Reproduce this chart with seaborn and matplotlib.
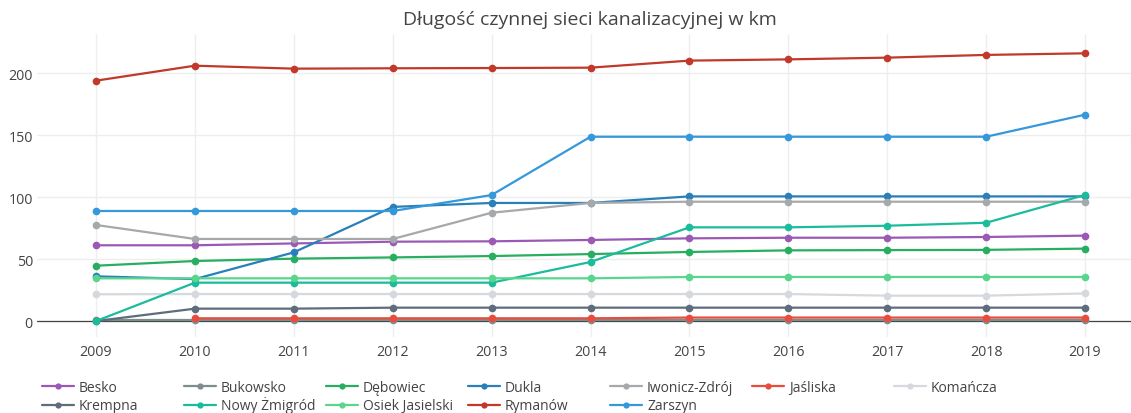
import numpy as np
import pandas as pd
import matplotlib
matplotlib.use("Agg")
import matplotlib.pyplot as plt
from matplotlib.lines import Line2D
import seaborn as sns

# Lata
lata = [2009, 2010, 2011, 2012, 2013, 2014, 2015, 2016, 2017, 2018, 2019]

# Długość czynnej sieci kanalizacyjnej [km] w gminach
besko = [61.2, 61.2, 62.7, 64.1, 64.4, 65.5, 66.8, 67.3, 67.3, 67.9, 69.0]
bukowsko = [0.5, 0.5, 0.5, 0.5, 0.5, 0.5, 0.5, 0.5, 0.5, 0.5, 0.5]
debowiec = [44.7, 48.5, 50.4, 51.4, 52.5, 54.1, 55.8, 57.1, 57.3, 57.5, 58.5]
dukla = [36.1, 33.9, 55.5, 92.2, 95.4, 95.4, 100.7, 100.7, 100.7, 100.7, 100.7]
iwonicz = [77.6, 66.3, 66.3, 66.3, 87.5, 95.4, 96.4, 96.4, 96.4, 96.4, 96.4]
jasliska = [np.nan, 2.2, 2.2, 2.2, 2.2, 2.2, 2.8, 2.8, 2.8, 2.8, 2.8]
komancza = [21.6, 21.8, 21.8, 21.8, 21.8, 21.8, 21.8, 21.8, 20.5, 20.5, 22.3]
krempna = [0.0, 10.0, 10.0, 10.8, 10.8, 10.8, 10.8, 10.8, 10.8, 10.8, 10.8]
nowy_zmigrod = [0.0, 31.0, 31.0, 31.0, 31.0, 47.7, 75.7, 75.7, 77.0, 79.4, 101.8]
osiek = [34.5, 34.5, 34.5, 34.5, 34.5, 34.5, 35.6, 35.6, 35.6, 35.6, 35.6]
rymanow = [194.2, 206.3, 203.9, 204.2, 204.4, 204.7, 210.4, 211.4, 212.8, 215.0, 216.3]
zarszyn = [88.9, 88.9, 88.9, 88.9, 101.8, 148.9, 148.9, 148.9, 148.9, 148.9, 166.7]

gminy = ["Besko", "Bukowsko", "Dębowiec", "Dukla", "Iwonicz-Zdrój", "Jaśliska",
         "Komańcza", "Krempna", "Nowy Żmigród", "Osiek Jasielski", "Rymanów", "Zarszyn"]
serie = [besko, bukowsko, debowiec, dukla, iwonicz, jasliska,
         komancza, krempna, nowy_zmigrod, osiek, rymanow, zarszyn]

kolory = {
    "Besko": "#9b59b6",
    "Bukowsko": "#7f8c8d",
    "Dębowiec": "#27ae60",
    "Dukla": "#2980b9",
    "Iwonicz-Zdrój": "#a5a9ab",
    "Jaśliska": "#e74c3c",
    "Komańcza": "#d5d8dc",
    "Krempna": "#5d6d7e",
    "Nowy Żmigród": "#1abc9c",
    "Osiek Jasielski": "#58d68d",
    "Rymanów": "#c0392b",
    "Zarszyn": "#3498db",
}

df = pd.DataFrame(
    [(g, r, v) for g, s in zip(gminy, serie) for r, v in zip(lata, s)],
    columns=["gmina", "rok", "km"],
)

sns.set_theme(style="white")
plt.rcParams["font.family"] = ["Open Sans", "DejaVu Sans"]

W, H = 1131, 414
fig = plt.figure(figsize=(W / 100, H / 100), dpi=100)
ax = fig.add_axes([37 / W, (H - 338) / H, (W - 37) / W, (338 - 35) / H])

ax.axhline(0, color="#444444", lw=0.9, zorder=1)

sns.lineplot(
    data=df, x="rok", y="km", hue="gmina", hue_order=gminy, palette=kolory,
    marker="o", markersize=5.5, markeredgewidth=0, linewidth=1.6,
    legend=False, ax=ax, zorder=3,
)

ax.set_xlim(2008.403, 2019.465)
ax.set_ylim(-12.9, 231.9)
ax.set_xticks(lata)
ax.set_yticks([0, 50, 100, 150, 200])
ax.grid(True, color="#eeeeee", lw=1)
ax.set_axisbelow(True)
for s in ax.spines.values():
    s.set_visible(False)
ax.tick_params(axis="both", length=0, labelsize=10.3, labelcolor="#444444")
ax.tick_params(axis="y", pad=3)
ax.tick_params(axis="x", pad=5)
ax.set_xlabel("")
ax.set_ylabel("")

fig.text(590 / W, 1 - 20 / H, "Długość czynnej sieci kanalizacyjnej w km",
         ha="center", va="center", fontsize=14, color="#444444")

# Legenda: poziomo, 7 kolumn po 142 px, wiersze wypełniane od lewej
kol_x0, kol_szer = 42, 142
wiersze_y = [387.0, 405.5]
for i, nazwa in enumerate(gminy):
    x0 = kol_x0 + (i % 7) * kol_szer
    y = 1 - wiersze_y[i // 7] / H
    fig.add_artist(Line2D([x0 / W, (x0 + 32) / W], [y, y], transform=fig.transFigure,
                          color=kolory[nazwa], lw=1.6))
    fig.add_artist(Line2D([(x0 + 16) / W], [y], transform=fig.transFigure,
                          color=kolory[nazwa], marker="o", markersize=4.5,
                          markeredgewidth=0, linestyle="none"))
    fig.text((x0 + 37) / W, y - 5.0 / H, nazwa, ha="left", va="baseline",
             fontsize=10, color="#444444")

fig.savefig("out.png", dpi=100)
